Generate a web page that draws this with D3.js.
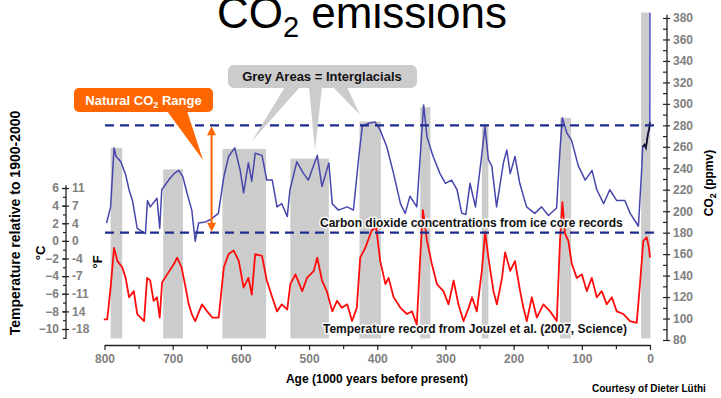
<!DOCTYPE html>
<html>
<head>
<meta charset="utf-8">
<script src="https://cdn.jsdelivr.net/npm/d3@7"></script>
<style>
  html, body { margin: 0; padding: 0; background: #fff; overflow: hidden; }
  svg { display: block; font-family: "Liberation Sans", Arial, Helvetica, sans-serif; }
</style>
</head>
<body>
<svg id="chart" width="721" height="398"></svg>
<script>
// ---- Data -----------------------------------------------------------------
// Atmospheric CO2 from ice cores: [age (kyr before present), ppmv]
const co2Record = [
  [797,189],[791,204],[786,259],[783,251],[776,246],[769,234],[764,220],[759,210],
  [752,184],[740,179],[737,210],[733,204],[723,212],[719,184],[716,220],[706,229],
  [698,235],[691,238],[685,232],[679,217],[672,201],[667,172],[662,189],[652,190],
  [645,192],[633,198],[625,232],[618,251],[609,259],[601,238],[596,217],[589,245],
  [584,228],[579,254],[569,252],[562,229],[554,229],[547,204],[540,207],[532,195],
  [528,220],[518,246],[508,235],[501,229],[488,252],[481,223],[471,245],[466,207],
  [457,201],[444,204],[435,201],[427,251],[422,279],[413,282],[403,283],[396,276],
  [386,260],[376,235],[366,207],[359,198],[352,214],[342,204],[337,251],[332,299],
  [327,269],[318,251],[308,235],[300,226],[291,229],[283,220],[276,198],[270,197],
  [264,226],[256,204],[247,251],[242,279],[237,248],[232,242],[225,204],[215,245],
  [210,257],[205,235],[198,251],[191,226],[181,204],[169,198],[159,204],[149,196],
  [137,203],[132,257],[128.5,287],[122,273],[115,266],[105,242],[95,229],[85,238],
  [78,220],[68,207],[59,220],[49,210],[37,210],[29,198],[20,189],[17,186],[12,241],
  [10.7,260],[8,262],[6,259],[3,272],[1,277],[0.2,283]
];
// Instrumental-era rise
const co2Modern = [[0.2,283],[0,385]];

// Antarctic temperature anomaly: [age (kyr before present), degC]
const tempRecord = [
  [801,-8.9],[796,-8.9],[791,-5.3],[786,-0.8],[781,-2.3],[774,-3.0],[769,-4.2],[764,-6.4],
  [757,-5.7],[752,-8.3],[742,-9.1],[737.5,-4.2],[733,-4.5],[728,-6.8],[723,-6.4],[719,-8.7],
  [715.5,-4.7],[708,-3.8],[698,-2.6],[693.5,-1.9],[687,-3.0],[681,-5.3],[676.5,-7.2],[672,-8.3],
  [667,-9.1],[657,-7.2],[649.5,-8.0],[642,-8.7],[632.5,-8.7],[625,-3.0],[618,-1.5],[610.5,-1.1],
  [603,-2.3],[596,-5.3],[589,-4.2],[584,-6.1],[579,-1.5],[569,-1.7],[562,-4.5],[554,-6.4],
  [547,-8.0],[540,-7.2],[532,-7.8],[527.5,-4.9],[520,-3.8],[510,-5.7],[503,-4.2],[493,-3.4],
  [488,-1.9],[481,-4.5],[474,-5.7],[466,-8.0],[459,-6.8],[452,-7.6],[444,-7.2],[437,-9.1],
  [430,-7.6],[425,-1.9],[417.6,-0.8],[408,1.2],[401.5,1.5],[395.6,-2.3],[388,-4.9],[383.4,-4.2],
  [376,-6.4],[366,-7.6],[356.5,-8.3],[349,-8.0],[342,-9.5],[337,-1.9],[333,3.5],[327,0],
  [320,-2.6],[312.5,-4.9],[303,-5.7],[295.5,-7.2],[288,-4.5],[281,-7.2],[273.5,-9.1],[266,-7.6],
  [261,-6.4],[254,-8.0],[246.6,-3.4],[241.8,1.0],[237,-1.9],[229.6,-5.7],[224.6,-7.2],[217,-4.2],
  [212.5,-1.3],[205,-3.4],[198,-2.3],[190.5,-5.7],[185.6,-7.6],[180.7,-9.1],[173.3,-6.4],[166,-8.7],
  [156.3,-7.2],[146.5,-8.0],[136.7,-9.1],[132,0],[128.5,4.4],[124.5,0.8],[119.7,0],[114.7,-2.6],
  [107.4,-4.2],[100,-3.8],[92.7,-5.7],[85.4,-4.2],[78,-6.4],[70.8,-5.7],[63.4,-7.2],[56,-6.4],
  [48.8,-8.0],[39,-8.3],[29.3,-9.1],[19.5,-9.3],[14.7,-4.9],[9.8,0],[4.8,0.4],[1.5,-0.8],[0,-1.9]
];

// Interglacial periods: [start age, end age, CO2 level the shading reaches]
const interglacials = [
  [791,774,259],[714,685,239],[627,563,258],[527.5,471,249],[426,394.6,283.5],
  [337,322,297],[246.6,237,280],[132,115.7,287],[13,-0.5,385]
];

// Natural range limits (ppmv)
const naturalRange = [180, 280];

// Axis ticks
const ageTicks = [800,700,600,500,400,300,200,100,0];
const ageMinorTicks = [750,650,550,450,350,250,150,50];
const co2Ticks = d3.range(80, 381, 20);
const co2MinorTicks = d3.range(80, 381, 10);
const celsiusTicks = [6,4,2,0,-2,-4,-6,-8,-10];
const fahrenheitLabels = ["11","7","4","0","-4","-7","-11","14","-18"];
const celsiusMinorTicks = d3.range(-11, 7, 1);

// ---- Scales ---------------------------------------------------------------
const svg = d3.select("#chart");
const x = d3.scaleLinear().domain([800, 0]).range([104.5, 650]);
const yCo2 = d3.scaleLinear().domain([80, 380]).range([340, 18]);
const yTemp = d3.scaleLinear().domain([-10, 6]).range([329, 188]);

const tickGrey = "#808080";
const axisInk = "#222";

// ---- Title ----------------------------------------------------------------
const title = svg.append("text")
  .attr("x", 362).attr("y", 28)
  .attr("text-anchor", "middle")
  .attr("font-size", 44)
  .attr("fill", "#000");
title.append("tspan").text("CO");
title.append("tspan").attr("font-size", 29).attr("dy", 9).text("2");
title.append("tspan").attr("dy", -9).text(" emissions");

// ---- Interglacial shading -------------------------------------------------
svg.append("g").selectAll("rect")
  .data(interglacials)
  .join("rect")
  .attr("x", d => x(d[0]))
  .attr("width", d => x(d[1]) - x(d[0]))
  .attr("y", d => yCo2(d[2]))
  .attr("height", d => yCo2(81.5) - yCo2(d[2]))
  .attr("fill", "#cccccc");

// ---- Series ---------------------------------------------------------------
const lineCo2 = d3.line().x(d => x(d[0])).y(d => yCo2(d[1]));
const lineTemp = d3.line().x(d => x(d[0])).y(d => yTemp(d[1]));

svg.append("path")
  .datum(tempRecord)
  .attr("d", lineTemp)
  .attr("fill", "none")
  .attr("stroke", "#ff0d0d")
  .attr("stroke-width", 1.8)
  .attr("stroke-linejoin", "round");

svg.append("path")
  .datum(co2Record)
  .attr("d", lineCo2)
  .attr("fill", "none")
  .attr("stroke", "#4646ad")
  .attr("stroke-width", 1.5)
  .attr("stroke-linejoin", "round");

svg.append("path")
  .datum(co2Modern)
  .attr("d", lineCo2)
  .attr("fill", "none")
  .attr("stroke", "#3a3ad0")
  .attr("stroke-width", 1.2);

// Holocene section drawn darker
svg.append("path")
  .datum(co2Record.filter(d => d[0] <= 11))
  .attr("d", lineCo2)
  .attr("fill", "none")
  .attr("stroke", "#111133")
  .attr("stroke-width", 1.7);

// ---- Natural range dashed limits -----------------------------------------
svg.append("g").selectAll("line")
  .data(naturalRange)
  .join("line")
  .attr("x1", 105).attr("x2", 654)
  .attr("y1", d => yCo2(d)).attr("y2", d => yCo2(d))
  .attr("stroke", "#1c2c8c")
  .attr("stroke-width", 2.2)
  .attr("stroke-dasharray", "9,6");

// ---- Series labels (white halo) ------------------------------------------
function haloText(xp, yp, txt) {
  svg.append("text")
    .attr("x", xp).attr("y", yp)
    .attr("font-size", 12).attr("font-weight", "bold")
    .attr("fill", "#111")
    .attr("stroke", "#fff").attr("stroke-width", 3).attr("stroke-opacity", 0.85)
    .attr("paint-order", "stroke")
    .attr("stroke-linejoin", "round")
    .text(txt);
}
haloText(320, 227, "Carbon dioxide concentrations from ice core records");
haloText(323, 333, "Temperature record from Jouzel et al. (2007, Science)");

// ---- Bottom axis ----------------------------------------------------------
const axisY = 345;
svg.append("g").attr("transform", `translate(0,${axisY})`)
  .call(d3.axisBottom(x).tickValues(ageTicks).tickSize(5).tickSizeOuter(0).tickPadding(4));
svg.append("g").attr("transform", `translate(0,${axisY})`)
  .call(d3.axisBottom(x).tickValues(ageMinorTicks).tickSize(4).tickFormat("").tickSizeOuter(0))
  .select(".domain").remove();

// ---- Right CO2 axis -------------------------------------------------------
const axisX = 667;
const gr = svg.append("g").attr("transform", `translate(${axisX},0)`)
  .call(d3.axisRight(yCo2).tickValues(co2Ticks).tickSize(3).tickSizeOuter(0).tickPadding(3));
gr.select(".domain").remove();
svg.append("g").attr("transform", `translate(${axisX},0)`)
  .call(d3.axisLeft(yCo2).tickValues(co2MinorTicks).tickSize(4).tickFormat("").tickSizeOuter(0))
  .select(".domain").remove();
svg.append("line")
  .attr("x1", axisX).attr("x2", axisX)
  .attr("y1", yCo2(79)).attr("y2", yCo2(383))
  .attr("stroke", axisInk).attr("stroke-width", 1.3);

// ---- Left temperature axis -----------------------------------------------
const tAxisX = 66;
const gl = svg.append("g").attr("transform", `translate(${tAxisX},0)`)
  .call(d3.axisLeft(yTemp).tickValues(celsiusTicks).tickSize(4).tickSizeOuter(0).tickPadding(3));
gl.select(".domain").remove();
svg.append("g").attr("transform", `translate(${tAxisX},0)`)
  .call(d3.axisLeft(yTemp).tickValues(celsiusMinorTicks).tickSize(3).tickFormat("").tickSizeOuter(0))
  .select(".domain").remove();
const gf = svg.append("g").attr("transform", `translate(${tAxisX},0)`)
  .call(d3.axisRight(yTemp).tickValues(celsiusTicks).tickSize(3).tickSizeOuter(0).tickPadding(3)
    .tickFormat((d, i) => fahrenheitLabels[i]));
gf.select(".domain").remove();
svg.append("line")
  .attr("x1", tAxisX).attr("x2", tAxisX)
  .attr("y1", yTemp(-11.1)).attr("y2", yTemp(6.3))
  .attr("stroke", axisInk).attr("stroke-width", 1.3);

// Shared axis styling
svg.selectAll(".tick line").attr("stroke", axisInk).attr("stroke-width", 1.2);
svg.selectAll(".domain").attr("stroke", axisInk).attr("stroke-width", 1.3);
svg.selectAll(".tick text")
  .attr("fill", tickGrey)
  .attr("font-size", 12)
  .attr("font-weight", "bold")
  .attr("font-family", "\"Liberation Sans\", Arial, sans-serif");

// ---- Axis titles ----------------------------------------------------------
svg.append("text")
  .attr("x", 377).attr("y", 383)
  .attr("text-anchor", "middle")
  .attr("font-size", 12).attr("font-weight", "bold")
  .text("Age (1000 years before present)");

svg.append("text")
  .attr("transform", "translate(20,223) rotate(-90)")
  .attr("text-anchor", "middle")
  .attr("font-size", 14).attr("font-weight", "bold")
  .text("Temperature relative to 1900-2000");

svg.append("text")
  .attr("transform", "translate(45,253) rotate(-90)")
  .attr("text-anchor", "middle")
  .attr("font-size", 13).attr("font-weight", "bold")
  .text("°C");

svg.append("text")
  .attr("transform", "translate(102,262) rotate(-90)")
  .attr("text-anchor", "middle")
  .attr("font-size", 13).attr("font-weight", "bold")
  .text("°F");

const co2Title = svg.append("text")
  .attr("transform", "translate(713,183) rotate(-90)")
  .attr("text-anchor", "middle")
  .attr("font-size", 12).attr("font-weight", "bold");
co2Title.append("tspan").text("CO");
co2Title.append("tspan").attr("font-size", 9).attr("dy", 3).text("2");
co2Title.append("tspan").attr("dy", -3).text(" (ppmv)");

svg.append("text")
  .attr("x", 592).attr("y", 392)
  .attr("font-size", 10).attr("font-weight", "bold")
  .text("Courtesy of Dieter Lüthi");

// ---- Callouts -------------------------------------------------------------
// Grey interglacial callout
const greyCallout = svg.append("g").attr("fill", "#cccccc");
greyCallout.append("path").attr("d", "M285,87 L300,87 L252,141 Z");
greyCallout.append("path").attr("d", "M309,87 L322,87 L315,150 Z");
greyCallout.append("path").attr("d", "M333,87 L347,87 L360,115 Z");
greyCallout.append("rect")
  .attr("x", 228).attr("y", 65).attr("width", 189).attr("height", 23).attr("rx", 6);
svg.append("text")
  .attr("x", 322).attr("y", 81)
  .attr("text-anchor", "middle")
  .attr("font-size", 13).attr("font-weight", "bold")
  .attr("fill", "#111")
  .text("Grey Areas = Interglacials");

// Orange natural-range callout
const orange = "#ff6600";
const orangeCallout = svg.append("g").attr("fill", orange);
orangeCallout.append("path").attr("d", "M167,111 L187,111 L203,160 Z");
orangeCallout.append("rect")
  .attr("x", 74).attr("y", 88).attr("width", 139).attr("height", 24).attr("rx", 5);
const rangeLabel = svg.append("text")
  .attr("x", 143.5).attr("y", 105)
  .attr("text-anchor", "middle")
  .attr("font-size", 13).attr("font-weight", "bold")
  .attr("fill", "#fff");
rangeLabel.append("tspan").text("Natural CO");
rangeLabel.append("tspan").attr("font-size", 9).attr("dy", 3).text("2");
rangeLabel.append("tspan").attr("dy", -3).text(" Range");

// Double-headed arrow spanning the natural range
const ax = x(643);
const yTop = yCo2(naturalRange[1]);
const yBot = yCo2(naturalRange[0]);
svg.append("line")
  .attr("x1", ax).attr("x2", ax)
  .attr("y1", yTop + 6).attr("y2", yBot - 6)
  .attr("stroke", orange).attr("stroke-width", 2);
svg.append("path")
  .attr("d", `M${ax},${yTop + 1} L${ax - 4.5},${yTop + 10} L${ax + 4.5},${yTop + 10} Z`)
  .attr("fill", orange);
svg.append("path")
  .attr("d", `M${ax},${yBot - 1} L${ax - 4.5},${yBot - 10} L${ax + 4.5},${yBot - 10} Z`)
  .attr("fill", orange);
</script>
</body>
</html>
